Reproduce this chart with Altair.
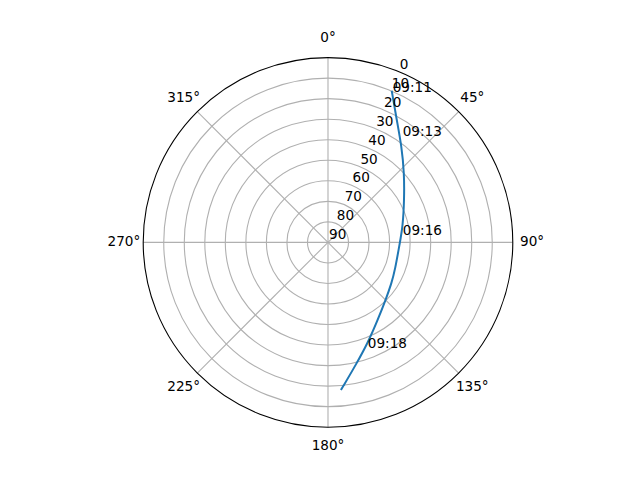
import math
import altair as alt
import pandas as pd

# satellite track (azimuth deg clockwise from north, elevation deg)
track_az = [22.8, 29.3, 37.6, 47.8, 60.9, 78.1, 90.2, 112.4, 122.8, 135.0, 148.3, 157.9, 166.6, 175.0]
track_el = [9.9, 21.6, 31.2, 39.9, 47.5, 52.8, 55.0, 54.7, 53.2, 50.3, 44.6, 37.8, 29.5, 17.8]

# time annotations
label_time = ["09:11", "09:13", "09:16", "09:18"]
label_az = [23.3, 35.1, 84.3, 159.4]
label_el = [10.4, 26.7, 53.4, 34.9]

# grid
ring_el = [80, 70, 60, 50, 40, 30, 20, 10]
spoke_az = [0, 45, 90, 135, 180, 225, 270, 315]
angle_text = ["0°", "45°", "90°", "135°", "180°", "225°", "270°", "315°"]
rlabel_values = [0, 10, 20, 30, 40, 50, 60, 70, 80, 90]

R_PX = 184.8
SIZE = 2 * R_PX
FONT = "DejaVu Sans"
FS = 13.6

xs = alt.Scale(domain=[-90, 90], nice=False, zero=False)
ys = alt.Scale(domain=[-90, 90], nice=False, zero=False)
rs = alt.Scale(type="linear", domain=[0, 90], range=[0, R_PX], zero=True)

def polar_xy(chart, az_field, zd_expr):
    return chart.transform_calculate(
        zd=zd_expr
    ).transform_calculate(
        x=f"datum.zd * sin(datum.{az_field} * PI / 180)",
        y=f"datum.zd * cos(datum.{az_field} * PI / 180)",
    )

track_df = pd.DataFrame({"i": list(range(len(track_az))), "az": track_az, "el": track_el})
label_df = pd.DataFrame({"t": label_time, "az": label_az, "el": label_el})
ring_df = pd.DataFrame({"el": ring_el})
outer_df = pd.DataFrame({"el": [0]})
spoke_df = pd.DataFrame({"az": spoke_az, "txt": angle_text})
rlab_df = pd.DataFrame({"v": rlabel_values, "txt": [str(v) for v in rlabel_values]})

rings = alt.Chart(ring_df).transform_calculate(zd="90 - datum.el").mark_arc(
    theta=0, theta2=2 * math.pi, filled=False, stroke="#b0b0b0", strokeWidth=1.1
).encode(radius=alt.Radius("zd:Q", scale=rs, stack=False))

outer = alt.Chart(outer_df).transform_calculate(zd="90 - datum.el").mark_arc(
    theta=0, theta2=2 * math.pi, filled=False, stroke="black", strokeWidth=1.1
).encode(radius=alt.Radius("zd:Q", scale=rs, stack=False))

spokes = polar_xy(alt.Chart(spoke_df), "az", "90").transform_calculate(
    x0="0", y0="0"
).mark_rule(color="#b0b0b0", strokeWidth=1.1).encode(
    x=alt.X("x:Q", scale=xs, axis=None),
    y=alt.Y("y:Q", scale=ys, axis=None),
    x2="x0:Q",
    y2="y0:Q",
)

angle_labels = polar_xy(alt.Chart(spoke_df), "az", "99.4").mark_text(
    font=FONT, fontSize=FS, align="center", baseline="middle", color="black"
).encode(
    x=alt.X("x:Q", scale=xs, axis=None),
    y=alt.Y("y:Q", scale=ys, axis=None),
    text="txt:N",
)

rlabels = polar_xy(
    alt.Chart(rlab_df).transform_calculate(az="22.5"), "az", "90 - datum.v"
).mark_text(
    font=FONT, fontSize=FS, align="left", baseline="bottom", dx=1, color="black"
).encode(
    x=alt.X("x:Q", scale=xs, axis=None),
    y=alt.Y("y:Q", scale=ys, axis=None),
    text="txt:N",
)

track = polar_xy(alt.Chart(track_df), "az", "90 - datum.el").mark_line(
    color="#1f77b4", strokeWidth=2.0, interpolate="basis"
).encode(
    x=alt.X("x:Q", scale=xs, axis=None),
    y=alt.Y("y:Q", scale=ys, axis=None),
    order="i:Q",
)

tlabels = polar_xy(alt.Chart(label_df), "az", "90 - datum.el").mark_text(
    font=FONT, fontSize=FS, align="left", baseline="alphabetic", color="black"
).encode(
    x=alt.X("x:Q", scale=xs, axis=None),
    y=alt.Y("y:Q", scale=ys, axis=None),
    text="t:N",
)

chart = alt.layer(
    rings, spokes, outer, track, rlabels, tlabels, angle_labels
).properties(
    width=SIZE,
    height=SIZE,
    autosize=alt.AutoSizeParams(type="none"),
    padding={"left": 135.2, "top": 49.6, "right": 100, "bottom": 40},
    background="white",
).configure_view(stroke=None)

chart.save("out.html", embed_options={"renderer": "svg", "actions": False})
